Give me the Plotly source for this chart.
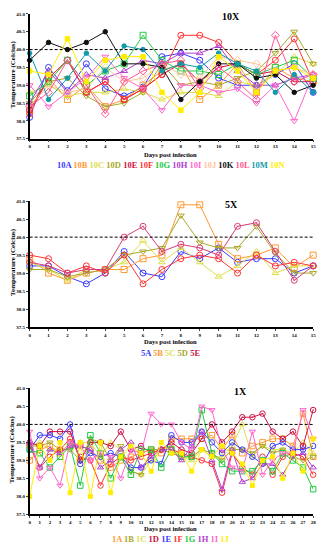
import plotly.graph_objects as go

# ---------------- DATA ----------------
days_10x = list(range(16))
days_5x = list(range(16))
days_1x = list(range(29))

t10A = [38.1, 39.5, 38.85, 39.6, 38.9, 38.7, 38.95, 39.8, 39.9, 39.7, 39.2, 39.0, 39.0, 39.3, 39.6, 38.8]
t10B = [38.3, 39.2, 38.6, 39.0, 38.4, 38.6, 39.0, 39.4, 39.6, 38.6, 39.0, 39.6, 38.8, 39.5, 39.2, 39.1]
t10C = [38.8, 39.0, 38.7, 38.8, 38.8, 38.9, 38.8, 38.6, 38.8, 38.8, 38.7, 39.1, 39.0, 39.3, 39.8, 39.6]
t10D = [38.5, 39.1, 39.2, 38.7, 38.4, 38.5, 38.8, 39.6, 39.0, 39.1, 39.0, 39.2, 39.4, 39.9, 40.5, 39.6]
t10E = [38.3, 39.2, 39.7, 38.8, 39.1, 38.6, 38.9, 39.3, 39.6, 39.1, 39.5, 39.6, 39.3, 39.4, 39.1, 39.1]
t10F = [38.2, 39.2, 39.7, 38.8, 39.1, 38.6, 38.9, 39.3, 40.4, 40.4, 40.2, 39.6, 39.3, 39.7, 40.3, 39.1]
t10G = [38.7, 39.1, 39.7, 39.0, 39.4, 39.6, 40.4, 39.7, 39.4, 39.4, 39.3, 39.6, 39.3, 39.5, 39.7, 39.2]
t10H = [38.5, 39.4, 38.8, 39.3, 39.2, 39.4, 39.7, 39.6, 39.9, 39.9, 40.1, 39.4, 39.0, 39.0, 39.2, 39.3]
t10I = [39.0, 38.4, 38.8, 39.2, 39.8, 39.2, 38.9, 38.3, 39.0, 39.0, 38.8, 38.9, 38.5, 39.0, 38.0, 39.3]
t10J = [38.4, 39.0, 38.8, 38.9, 39.5, 39.1, 39.2, 39.6, 39.3, 39.2, 39.8, 39.7, 39.6, 39.4, 39.5, 39.3]
t10K = [39.7, 40.2, 40.0, 40.2, 40.5, 39.6, 39.6, 39.5, 38.6, 39.1, 39.6, 39.6, 39.2, 39.3, 38.8, 39.0]
t10L = [38.4, 38.8, 39.7, 39.0, 38.2, 39.1, 39.4, 39.6, 39.7, 38.9, 39.5, 39.1, 38.6, 40.4, 39.1, 39.3]
t10M = [39.9, 38.6, 39.2, 39.9, 39.4, 40.1, 40.0, 39.4, 39.6, 39.5, 39.9, 39.6, 39.4, 38.8, 39.3, 38.8]
t10N = [39.4, 39.3, 40.3, 39.1, 39.7, 39.8, 39.8, 38.8, 38.3, 38.8, 39.8, 39.4, 38.8, 39.4, 39.5, 39.2]

t5A = [39.2, 39.2, 38.9, 38.7, 39.0, 39.6, 39.0, 38.9, 39.6, 39.4, 39.7, 39.3, 39.4, 39.4, 39.0, 39.2]
t5B = [39.4, 39.0, 38.8, 39.0, 39.1, 39.1, 39.4, 39.5, 40.9, 40.9, 39.8, 39.4, 39.5, 39.7, 39.15, 39.5]
t5C = [39.3, 39.1, 38.8, 39.1, 39.1, 39.3, 39.9, 39.3, 39.7, 39.3, 38.9, 39.2, 39.6, 39.0, 39.2, 39.2]
t5D = [39.1, 39.1, 38.9, 39.0, 39.1, 39.5, 39.6, 39.7, 40.6, 39.85, 39.7, 39.7, 40.3, 39.55, 39.0, 39.0]
t5E = [39.3, 39.2, 39.0, 39.1, 39.1, 40.0, 40.3, 39.6, 39.8, 39.7, 39.5, 40.3, 40.4, 39.6, 38.8, 39.2]
t5R = [39.5, 39.4, 39.0, 39.2, 39.0, 39.5, 38.7, 39.1, 39.4, 39.5, 39.4, 39.0, 39.5, 39.2, 39.3, 39.2]

t1A = [39.0, 39.3, 39.4, 39.2, 39.5, 39.4, 39.3, 39.0, 38.8, 39.0, 39.1, 39.2, 39.3, 39.2, 39.6, 39.6, 39.6, 39.6, 39.7, 39.3, 39.7, 39.2, 39.4, 39.5, 39.6, 39.6, 39.4, 40.3, 39.1]
t1B = [39.4, 39.5, 39.3, 39.3, 39.3, 39.5, 39.5, 39.1, 39.5, 39.3, 38.7, 38.6, 39.0, 39.3, 39.4, 39.1, 39.0, 39.3, 39.1, 39.1, 39.4, 40.0, 39.1, 39.4, 39.3, 39.3, 39.2, 39.5, 39.2]
t1C = [39.4, 39.4, 39.5, 39.3, 39.3, 39.0, 39.6, 39.5, 39.0, 39.4, 38.7, 38.6, 39.3, 39.3, 39.2, 39.1, 39.1, 39.3, 39.2, 39.0, 39.3, 39.3, 39.2, 39.4, 39.2, 39.3, 39.1, 39.0, 39.1]
t1D = [39.5, 39.4, 39.8, 39.8, 39.8, 39.0, 39.5, 39.5, 39.4, 39.8, 39.3, 39.4, 39.2, 39.3, 39.5, 39.3, 39.2, 39.6, 40.0, 39.5, 39.8, 40.2, 40.2, 40.3, 39.8, 39.6, 39.8, 39.4, 40.4]
t1E = [39.3, 39.7, 39.7, 39.6, 40.0, 38.9, 39.2, 39.1, 39.2, 39.1, 38.8, 38.8, 39.0, 38.9, 39.7, 39.5, 39.5, 39.8, 39.5, 39.2, 39.5, 39.3, 39.1, 38.9, 39.4, 39.5, 39.3, 39.3, 39.4]
t1F = [39.4, 38.8, 39.1, 39.3, 39.6, 39.1, 39.0, 38.3, 38.9, 39.1, 39.0, 39.1, 39.2, 39.3, 39.3, 39.2, 39.1, 39.0, 38.9, 38.1, 39.2, 38.8, 38.6, 39.1, 38.6, 39.1, 39.2, 39.1, 38.6]
t1G = [39.3, 39.2, 38.8, 39.1, 39.4, 38.3, 39.7, 39.2, 38.5, 39.1, 38.6, 39.3, 39.3, 38.8, 39.3, 39.1, 39.1, 40.4, 39.2, 38.9, 38.7, 38.7, 38.7, 39.0, 38.7, 39.2, 39.0, 38.8, 38.2]
t1H = [39.5, 38.8, 39.3, 39.2, 39.4, 39.4, 39.3, 38.8, 39.0, 39.3, 39.5, 38.8, 39.1, 39.3, 39.3, 39.0, 39.4, 39.8, 39.0, 38.2, 39.3, 38.4, 38.5, 38.9, 38.9, 38.6, 39.1, 39.2, 38.8]
t1I = [39.8, 38.5, 38.8, 38.3, 39.5, 39.4, 39.0, 39.2, 39.1, 38.5, 39.3, 39.2, 40.3, 40.0, 40.0, 39.5, 39.3, 40.5, 40.4, 39.3, 38.8, 38.7, 39.8, 38.6, 39.0, 39.2, 39.2, 40.4, 39.6]
t1J = [38.0, 39.4, 39.0, 39.5, 38.1, 39.5, 38.0, 39.5, 38.1, 39.1, 39.4, 39.2, 38.7, 39.5, 39.2, 39.2, 38.7, 39.3, 39.1, 39.4, 39.2, 38.9, 38.3, 39.0, 39.1, 38.5, 39.2, 38.7, 39.6]

names_10x = ["10A", "10B", "10C", "10D", "10E", "10F", "10G", "10H", "10I", "10J", "10K", "10L", "10M", "10N"]
names_5x = ["5A", "5B", "5C", "5D", "5E"]
names_1x = ["1A", "1B", "1C", "1D", "1E", "1F", "1G", "1H", "1I", "1J"]

# ---------------- STYLES ----------------
FONT = "Liberation Serif"
BLUE, ORANGE, LYEL, OLIVE = "#3b3bff", "#ff9933", "#dede4a", "#a8a82a"
CRIM, RED, GREEN, PURP = "#cc1144", "#ff3333", "#22cc44", "#b040d0"
PINK, SALM, BLACK, ROSE = "#ff66cc", "#ffc49a", "#111111", "#ff5590"
TEAL, YEL, MAG = "#119aaa", "#ffee00", "#d63d78"

series_10x = [
    (t10A, BLUE, "circle-open"), (t10B, ORANGE, "square-open"), (t10C, LYEL, "triangle-up-open"),
    (t10D, OLIVE, "triangle-down-open"), (t10E, CRIM, "circle-open-dot"), (t10F, RED, "circle-open"),
    (t10G, GREEN, "square-open"), (t10H, PURP, "triangle-up-open"), (t10I, PINK, "triangle-down-open"),
    (t10J, SALM, "diamond-open"), (t10K, BLACK, "circle"), (t10L, ROSE, "diamond-open"),
    (t10M, TEAL, "circle"), (t10N, YEL, "square"),
]
series_5x = [
    (t5A, BLUE, "circle-open"), (t5B, ORANGE, "square-open"), (t5C, LYEL, "triangle-up-open"),
    (t5D, OLIVE, "triangle-down-open"), (t5R, RED, "circle-open"), (t5E, MAG, "circle-open-dot"),
]
series_1x = [
    (t1A, ORANGE, "square-open"), (t1B, LYEL, "triangle-up-open"), (t1C, OLIVE, "triangle-down-open"),
    (t1D, CRIM, "circle-open-dot"), (t1E, BLUE, "circle-open"), (t1F, RED, "circle-open"),
    (t1G, GREEN, "square-open"), (t1H, PURP, "triangle-up-open"), (t1I, PINK, "triangle-down-open"),
    (t1J, YEL, "square"),
]
leg_col_10x = [BLUE, ORANGE, LYEL, OLIVE, CRIM, RED, GREEN, PURP, PINK, SALM, BLACK, ROSE, TEAL, YEL]
leg_col_5x = [BLUE, ORANGE, LYEL, OLIVE, CRIM]
leg_col_1x = [ORANGE, OLIVE, LYEL, CRIM, BLUE, RED, GREEN, PURP, PINK, YEL]

W, H = 328, 550
def px(y):
    return 1 - y / H

fig = go.Figure()

panels = [
    # days, series, xaxis, yaxis, top px, bottom px, xmax, title, title x, names, colors, legend y, xlabel y
    (days_10x, series_10x, "x", "y", 12, 138, 15, "10X", 233, names_10x, leg_col_10x, 164, 154),
    (days_5x, series_5x, "x2", "y2", 201, 328, 15, "5X", 233, names_5x, leg_col_5x, 354, 343),
    (days_1x, series_1x, "x3", "y3", 390, 517, 28, "1X", 242, names_1x, leg_col_1x, 542, 531),
]

xd = [29 / W, 316 / W]
for i, (days, ser, xa, ya, top, bot, xmax, title, tx, names, cols, ly, xly) in enumerate(panels):
    msize = 6 if xmax == 15 else 5.5
    for vals, col, sym in ser:
        sz = msize if "open" in sym else msize - 1.5
        fig.add_trace(go.Scatter(
            x=days, y=vals, xaxis=xa, yaxis=ya, mode="lines+markers",
            line=dict(color=col, width=1),
            marker=dict(symbol=sym, size=sz, color=col, line=dict(color=col, width=1)),
            cliponaxis=False, showlegend=False, hoverinfo="skip"))
    sfx = "" if i == 0 else str(i + 1)
    fig.update_layout(**{
        "xaxis" + sfx: dict(domain=xd, range=[0, xmax], anchor=ya, dtick=1, tick0=0,
                            showgrid=False, zeroline=False, showline=True, linecolor="black",
                            linewidth=1.5, ticks="outside", ticklen=2, tickwidth=1,
                            tickfont=dict(family=FONT, size=5, color="black", weight="bold")),
        "yaxis" + sfx: dict(domain=[px(bot), px(top)], range=[37.5, 41.0], anchor=xa, dtick=0.5,
                            tick0=37.5, tickformat=".1f",
                            showgrid=False, zeroline=False, showline=True, linecolor="black",
                            linewidth=1.5, ticks="outside", ticklen=2, tickwidth=1,
                            tickfont=dict(family=FONT, size=5, color="black", weight="bold")),
    })
    fig.add_shape(type="line", xref=xa, yref=ya, x0=0, x1=xmax, y0=40.0, y1=40.0,
                  line=dict(color="black", width=1, dash="3px,2px"))
    common = dict(xref="paper", yref="paper", showarrow=False, xanchor="center", yanchor="middle")
    fig.add_annotation(x=tx / W, y=px(top + 3), text="<b>%s</b>" % title,
                       font=dict(family=FONT, size=10, color="black"), **common)
    fig.add_annotation(x=12 / W, y=px((top + bot) / 2 - 2),
                       text="<b>Temperature (Celcius)</b>", textangle=-90,
                       font=dict(family=FONT, size=7, color="black"), **common)
    fig.add_annotation(x=172 / W, y=px(xly), text="<b>Days post infection</b>",
                       font=dict(family=FONT, size=6.5, color="black"), **common)
    leg = " ".join('<span style="color:%s">%s</span>' % (c, n) for n, c in zip(names, cols))
    fig.add_annotation(x=172 / W, y=px(ly), text="<b>%s</b>" % leg,
                       font=dict(family=FONT, size=8.5, color="black"), **common)

fig.update_layout(width=W, height=H, margin=dict(l=0, r=0, t=0, b=0),
                  paper_bgcolor="white", plot_bgcolor="white", showlegend=False)

fig.write_html("out.html", config={"displayModeBar": False},
               post_script="document.body.style.margin='0';document.body.style.overflow='hidden';")
